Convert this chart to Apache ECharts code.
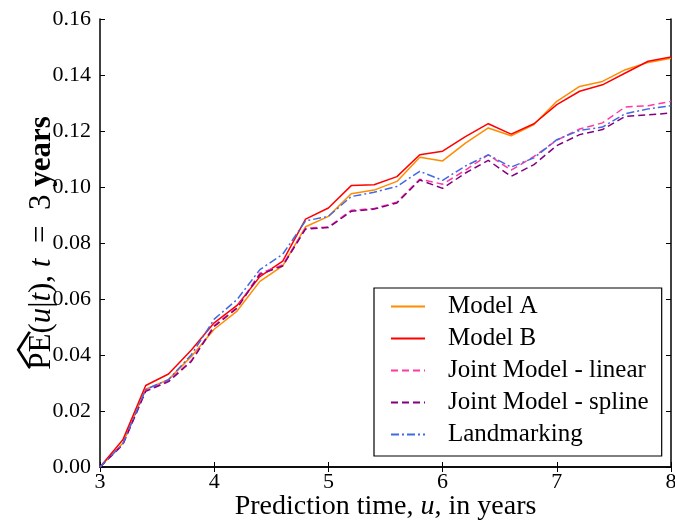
<!DOCTYPE html>
<html>
<head>
<meta charset="utf-8">
<script src="https://cdn.jsdelivr.net/npm/echarts@6/dist/echarts.min.js"></script>
<style>
  html, body { margin: 0; padding: 0; background: #fff; }
  #chart { width: 675px; height: 523px; }
</style>
</head>
<body>
<div id="chart"></div>
<script>
// prediction times u (years)
const times = [3.0, 3.2, 3.4, 3.6, 3.8, 4.0, 4.2, 4.4, 4.6, 4.8, 5.0, 5.2, 5.4,
               5.6, 5.8, 6.0, 6.2, 6.4, 6.6, 6.8, 7.0, 7.2, 7.4, 7.6, 7.8, 8.0]

const modelA = [0, 0.0085, 0.0278, 0.0312, 0.0395, 0.0492, 0.0557, 0.0663, 0.0718, 0.0858, 0.0895, 0.0976, 0.0989,
                0.1020, 0.1106, 0.1093, 0.1157, 0.1211, 0.1183, 0.1223, 0.1306, 0.1359, 0.1377, 0.1419, 0.1445, 0.1460]
const modelB = [0, 0.0097, 0.0291, 0.0332, 0.0418, 0.0515, 0.0577, 0.0680, 0.0735, 0.0885, 0.0925, 0.1005, 0.1008,
                0.1037, 0.1115, 0.1128, 0.1180, 0.1226, 0.1189, 0.1226, 0.1294, 0.1342, 0.1365, 0.1407, 0.1449, 0.1464]
const jmLinear = [0, 0.0082, 0.0273, 0.0308, 0.0380, 0.0505, 0.0570, 0.0692, 0.0722, 0.0853, 0.0857, 0.0917, 0.0923,
                  0.0946, 0.1028, 0.1010, 0.1060, 0.1115, 0.1060, 0.1109, 0.1167, 0.1207, 0.1229, 0.1286, 0.1290, 0.1306]
const jmSpline = [0, 0.0080, 0.0270, 0.0305, 0.0377, 0.0502, 0.0567, 0.0688, 0.0718, 0.0850, 0.0855, 0.0913, 0.0921,
                  0.0943, 0.1025, 0.0995, 0.1050, 0.1095, 0.1038, 0.1080, 0.1148, 0.1187, 0.1205, 0.1252, 0.1258, 0.1264]
const landmarking = [0, 0.0082, 0.0277, 0.0312, 0.0401, 0.0528, 0.0598, 0.0705, 0.0760, 0.0879, 0.0895, 0.0966, 0.0981,
                     0.1002, 0.1056, 0.1024, 0.1075, 0.1115, 0.1071, 0.1104, 0.1169, 0.1202, 0.1214, 0.1262, 0.1279, 0.1290]

const seriesNames = ['Model A', 'Model B', 'Joint Model - linear', 'Joint Model - spline', 'Landmarking']

const font = 'Liberation Serif'

function pairs(ys) {
  return times.map((t, i) => [t, ys[i]])
}

function mkLine(name, ys, color, type) {
  return {
    name: name,
    type: 'line',
    symbol: 'none',
    data: pairs(ys),
    lineStyle: { color: color, width: 1.5, type: type },
    itemStyle: { color: color },
    emphasis: { disabled: true }
  }
}

const chart = echarts.init(document.getElementById('chart'))

const frameAxis = {
  axisLine: { lineStyle: { color: '#000', width: 1.5 } },
  axisTick: { inside: true, length: 5, lineStyle: { color: '#000', width: 1 } },
  splitLine: { show: false }
}

const option = {
  animation: false,
  backgroundColor: '#fff',
  grid: { left: 100, right: 4, top: 19, bottom: 56, containLabel: false, outerBoundsMode: 'none' },
  legend: {
    data: seriesNames,
    orient: 'vertical',
    left: 374,
    top: 288,
    padding: [6, 13, 9, 16],
    itemWidth: 34,
    itemHeight: 14,
    itemGap: 7,
    borderColor: '#000',
    borderWidth: 1.2,
    backgroundColor: '#fff',
    itemStyle: { opacity: 0 },
    textStyle: { fontFamily: font, fontSize: 25, lineHeight: 25, color: '#000', padding: [0, 0, 0, 18] }
  },
  xAxis: [
    Object.assign({
      type: 'value', min: 3, max: 8, interval: 1,
      position: 'bottom',
      axisLabel: { fontFamily: font, fontSize: 22, color: '#000', margin: 4 },
      name: '{t|Prediction time, }{i|u}{t|, in years}',
      nameLocation: 'middle',
      nameGap: 26,
      nameMoveOverlap: false,
      nameTextStyle: {
        rich: {
          t: { fontFamily: font, fontSize: 28, color: '#000' },
          i: { fontFamily: font, fontSize: 28, color: '#000', fontStyle: 'italic' }
        }
      }
    }, frameAxis),
    Object.assign({
      type: 'value', min: 3, max: 8, interval: 1,
      position: 'top',
      axisLabel: { show: false }
    }, frameAxis)
  ],
  yAxis: [
    Object.assign({
      type: 'value', min: 0, max: 0.16, interval: 0.02,
      position: 'left',
      axisLabel: { fontFamily: font, fontSize: 22, color: '#000', margin: 9,
        formatter: v => v.toFixed(2) },
      name: '{h|\uFE3F}\n{t|PE(}{i|u}{t||}{i|t}{t|), }{i|t}{t|\u2002=\u20023 }{b|years}',
      nameLocation: 'middle',
      nameRotate: 90,
      nameGap: 43,
      nameMoveOverlap: false,
      nameTextStyle: {
        align: 'center',
        rich: {
          h: { fontFamily: 'Noto Sans CJK SC', fontSize: 40, color: '#000', lineHeight: 26, align: 'left' },
          t: { fontFamily: font, fontSize: 31, color: '#000', lineHeight: 31 },
          i: { fontFamily: font, fontSize: 31, color: '#000', fontStyle: 'italic', lineHeight: 31 },
          b: { fontFamily: font, fontSize: 31, color: '#000', fontWeight: 'bold', lineHeight: 31 }
        }
      }
    }, frameAxis),
    Object.assign({
      type: 'value', min: 0, max: 0.16, interval: 0.02,
      position: 'right',
      axisLabel: { show: false }
    }, frameAxis)
  ],
  series: [
    mkLine(seriesNames[0], modelA, '#ff8c00', 'solid'),
    mkLine(seriesNames[1], modelB, '#ff0000', 'solid'),
    mkLine(seriesNames[2], jmLinear, '#ff3aa0', [7, 4]),
    mkLine(seriesNames[3], jmSpline, '#800080', [7, 4]),
    mkLine(seriesNames[4], landmarking, '#4169e1', [8, 3, 2, 3])
  ]
}

chart.setOption(option)
</script>
</body>
</html>
